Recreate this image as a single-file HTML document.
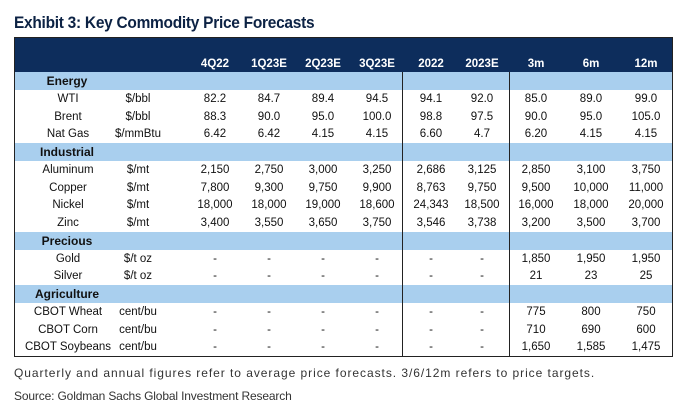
<!DOCTYPE html>
<html><head><meta charset="utf-8">
<style>
body{margin:0;background:#fff;width:680px;height:413px;overflow:hidden;position:relative;font-family:"Liberation Sans",Arial,sans-serif}
.abs{position:absolute}
#title{left:14px;top:13px;font-size:17px;font-weight:bold;color:#0c2244;letter-spacing:-0.3px;transform:scaleX(0.91);transform-origin:left}
#box{left:14px;top:37px;width:657px;height:318px;border:1px solid #222;box-sizing:content-box}
#hdr{left:15px;top:38px;width:657px;height:34px;background:#0d2d5c;border-bottom:1px solid #111}
.c{position:absolute;transform:translateX(-50%);white-space:nowrap;font-size:11.5px;color:#111;line-height:18px}
.h{color:#fff;font-weight:bold;font-size:11.5px}
.band{position:absolute;left:15px;width:657px;height:18px;background:#a9cfee}
.bl{font-weight:bold;font-size:12px}
.vd{position:absolute;top:72px;width:1px;height:284px;background:#222}
.note{position:absolute;left:14px;font-size:12px;color:#333;white-space:nowrap}
</style></head><body>
<div id="title" class="abs">Exhibit 3: Key Commodity Price Forecasts</div>
<div id="box" class="abs"></div>
<div id="hdr" class="abs"></div>
<div id="tbl"></div>
<div class="note" style="top:366px;letter-spacing:0.95px">Quarterly and annual figures refer to average price forecasts. 3/6/12m refers to price targets.</div>
<div class="note" style="top:389px;letter-spacing:-0.15px">Source: Goldman Sachs Global Investment Research</div>
<script>
const headers=["4Q22","1Q23E","2Q23E","3Q23E","2022","2023E","3m","6m","12m"];
const sections=["Energy","Industrial","Precious","Agriculture"];
const rowNames=[["WTI","Brent","Nat Gas"],["Aluminum","Copper","Nickel","Zinc"],["Gold","Silver"],["CBOT Wheat","CBOT Corn","CBOT Soybeans"]];
const units=[["$/bbl","$/bbl","$/mmBtu"],["$/mt","$/mt","$/mt","$/mt"],["$/t oz","$/t oz"],["cent/bu","cent/bu","cent/bu"]];
const values=[
[["82.2","84.7","89.4","94.5","94.1","92.0","85.0","89.0","99.0"],
 ["88.3","90.0","95.0","100.0","98.8","97.5","90.0","95.0","105.0"],
 ["6.42","6.42","4.15","4.15","6.60","4.7","6.20","4.15","4.15"]],
[["2,150","2,750","3,000","3,250","2,686","3,125","2,850","3,100","3,750"],
 ["7,800","9,300","9,750","9,900","8,763","9,750","9,500","10,000","11,000"],
 ["18,000","18,000","19,000","18,600","24,343","18,500","16,000","18,000","20,000"],
 ["3,400","3,550","3,650","3,750","3,546","3,738","3,200","3,500","3,700"]],
[["-","-","-","-","-","-","1,850","1,950","1,950"],
 ["-","-","-","-","-","-","21","23","25"]],
[["-","-","-","-","-","-","775","800","750"],
 ["-","-","-","-","-","-","710","690","600"],
 ["-","-","-","-","-","-","1,650","1,585","1,475"]]];
const colX=[215,269,323,377,431,482,536,591,646];
const nameX=68, unitX=138, rowH=17.75, startY=72;
const t=document.getElementById('tbl');
function cell(txt,x,y,cls){const d=document.createElement('div');d.className='c '+(cls||'');d.style.left=x+'px';d.style.top=y+'px';d.textContent=txt;t.appendChild(d);return d;}
headers.forEach((h,i)=>{const d=cell(h,colX[i],55,'h');

});
let y=startY;
sections.forEach((s,si)=>{
 const b=document.createElement('div');b.className='band';b.style.top=y+'px';t.appendChild(b);
 
 
 const l=cell(s,67,y,'bl');
 
 
 y+=rowH;
 rowNames[si].forEach((n,ri)=>{
  const nd=cell(n,nameX,y);
  
  
  const ud=cell(units[si][ri],unitX,y);
  
  
  values[si][ri].forEach((v,ci)=>{const vd=cell(v,colX[ci],y);
   
   });
  y+=rowH;
 });
});
[402,509].forEach(x=>{const v=document.createElement('div');v.className='vd';v.style.left=x+'px';t.appendChild(v);
 
 });
</script>
</body></html>
